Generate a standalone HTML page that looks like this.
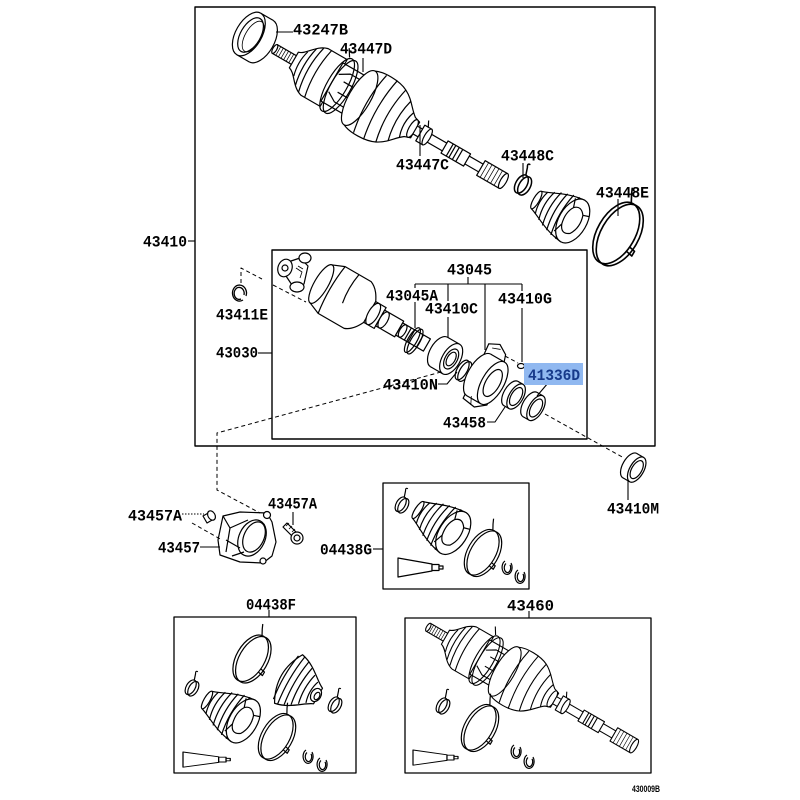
<!DOCTYPE html>
<html><head><meta charset="utf-8">
<style>
html,body{margin:0;padding:0;background:#fff;}
svg{display:block}
.t{font-family:"Liberation Mono",monospace;font-weight:bold;font-size:16px;fill:#000;stroke:none}
</style></head><body>
<svg width="800" height="800" viewBox="0 0 800 800" xmlns="http://www.w3.org/2000/svg">
<defs>
<g id="shaft" stroke="#000" stroke-width="1.2" fill="#fff" stroke-linejoin="round">
 <path d="M-6,-5 H18 V5 H-6 Z"/>
 <ellipse cx="-6" cy="0" rx="2" ry="5"/>
 <path fill="none" stroke-width="0.7" d="M-2,-5V5M1,-5V5M4,-5V5M7,-5V5M10,-5V5M13,-5V5"/>
 <path d="M16,-9 C24,-11 28,-24 40,-27 L62,-27 L62,27 L40,27 C28,24 24,11 16,9 Z"/>
 <path fill="none" d="M24,-14 Q20,0 24,14 M30,-21 Q25,0 30,21 M36,-25 Q30,0 36,25 M44,-27 Q38,0 44,27"/>
 <path d="M60,-22 H92 V22 H60 Z"/>
 <path fill="none" d="M62,-10 L72,-16 L88,-16 M62,10 L72,16 L88,16 M70,-6 H90 M70,6 H90"/>
 <ellipse fill="none" cx="66" cy="0" rx="10" ry="30"/>
 <ellipse fill="none" cx="70" cy="0" rx="10" ry="30"/>
 <path fill="none" d="M63,-30 L58,-38"/>
 <path d="M92,-31 C100,-35 118,-35 128,-30 C138,-25 142,-17 150,-11 L156,-9 L156,9 L150,11 C142,17 138,25 128,30 C118,35 100,35 92,31 Z"/>
 <ellipse cx="92" cy="0" rx="11" ry="31"/>
 <path fill="none" d="M104,-33 Q97,0 104,33 M116,-34 Q109,0 116,34 M128,-30 Q121,0 128,30 M138,-23 Q132,0 138,23 M146,-14 Q141,0 146,14"/>
 <ellipse cx="153" cy="0" rx="3.5" ry="10"/>
 <path d="M156,-4.5 H234 V4.5 H156 Z"/>
 <path d="M162,-9 H170 V9 H162 Z"/>
 <ellipse cx="170" cy="0" rx="3" ry="9"/>
 <path fill="none" d="M166,-9 L163,-15"/>
 <path d="M190,-7 H216 V7 H190 Z"/>
 <path fill="none" d="M196,-7V7M199,-7V7M203,-7V7M207,-7V7"/>
 <path d="M232,-8.5 H258 V8.5 H232 Z"/>
 <path fill="none" stroke-width="0.7" d="M236,-8.5V8.5M240,-8.5V8.5M244,-8.5V8.5M248,-8.5V8.5M252,-8.5V8.5"/>
 <ellipse cx="258" cy="0" rx="3" ry="8.5"/>
</g>
<g id="boot" stroke="#000" stroke-width="1.2" fill="#fff" stroke-linejoin="round">
 <path d="M0,-10 C8,-12 22,-22 42,-24 L42,24 C22,22 8,12 0,10 Z"/>
 <ellipse cx="0" cy="0" rx="3" ry="10"/>
 <path fill="none" d="M6,-12.5 Q2,0 6,12.5 M12,-16 Q7,0 12,16 M18,-19 Q13,0 18,19 M24,-21 Q19,0 24,21 M30,-23 Q25,0 30,23 M36,-24 Q31,0 36,24"/>
 <ellipse cx="42" cy="0" rx="14" ry="24"/>
 <path fill="none" d="M36,-12 Q42,-18 48,-10 Q52,2 46,12 Q38,18 34,8 Q31,-4 36,-12 Z M36,-12 L33,-21 M48,-10 L54,-12 M34,8 L31,18"/>
</g>
<g id="band" fill="none" stroke="#000" stroke-width="1.2">
 <g transform="rotate(30)">
  <ellipse cx="-1.5" cy="0" rx="14" ry="25"/>
  <ellipse cx="1.5" cy="0" rx="14" ry="25"/>
  <path d="M-3,-25 Q-6,-30 -8,-35 M12,4 l5,1 l0,4 l-5,-1"/>
 </g>
</g>
<g id="clamp" fill="none" stroke="#000" stroke-width="1.2">
 <g transform="rotate(30)">
  <ellipse cx="-1.5" cy="0" rx="4.5" ry="8"/>
  <ellipse cx="1.5" cy="0" rx="4.5" ry="8"/>
  <path d="M-2,-8 L-4,-14 Q-6,-17 -3,-17"/>
 </g>
</g>
<g id="snap" fill="none" stroke="#000" stroke-width="1.2">
 <path d="M-2,-7 A5,7 0 1,0 4,-5 M-1,-4.5 A3.2,4.8 0 1,0 3,-3.2"/>
</g>
<g id="tube" fill="#fff" stroke="#000" stroke-width="1.2">
 <path d="M0,0 L34,6 L34,13 L0,19 Z"/>
 <path d="M34,6.5 H41 V12.5 H34 Z"/>
 <path d="M41,8 H45 V11 H41 Z"/>
</g>
</defs>

<g stroke="#000" stroke-width="1.2" fill="#fff" stroke-linejoin="round">
<rect x="195" y="7" width="460" height="439" fill="none" stroke-width="1.4"/>
<rect x="272" y="250" width="315" height="189" fill="none" stroke-width="1.4"/>
<rect x="383" y="483" width="146" height="106" fill="none" stroke-width="1.3"/>
<rect x="174" y="617" width="182" height="156" fill="none" stroke-width="1.3"/>
<rect x="405" y="618" width="246" height="155" fill="none" stroke-width="1.3"/>

<g transform="translate(280,52) rotate(30)">
 <ellipse cx="-22" cy="0" rx="13" ry="24"/>
 <path d="M-36,-24 H-22 V24 H-36 Z" stroke="none"/>
 <path fill="none" d="M-36,-24 H-22 M-36,24 H-22"/>
 <ellipse cx="-36" cy="0" rx="13" ry="24"/>
 <ellipse cx="-34" cy="0" rx="10" ry="19" fill="none"/>
 <ellipse cx="-31" cy="0" rx="8" ry="17" fill="none" stroke-width="0.8"/>
</g>
<use href="#shaft" transform="translate(280,52) rotate(30)"/>
<use href="#clamp" transform="translate(523,185) scale(1.25)"/>
<use href="#boot" transform="translate(280,52) rotate(30) translate(296,0)"/>
<use href="#band" transform="translate(618,234) scale(1.35)"/>

<path d="M288,262 L300,258 L308,266 L304,284 L294,288 L286,276 Z"/>
<ellipse cx="305" cy="258" rx="6" ry="5"/>
<ellipse cx="297" cy="287" rx="7" ry="5"/>
<ellipse cx="285" cy="268" rx="7" ry="9" transform="rotate(20 285 268)"/>
<circle cx="285" cy="268" r="3" fill="none"/>
<path fill="none" d="M296,268 l6,4 l-2,6 M298,266 l5,3" stroke-width="0.8"/>

<g transform="translate(297,270) rotate(30)">
 <path d="M28,-22 L40,-27 L70,-27 C78,-24 82,-16 84,-12 L84,12 C82,16 78,24 70,27 L40,27 L28,22 Z"/>
 <ellipse cx="28" cy="0" rx="7" ry="22"/>
 <path fill="none" d="M40,-27 Q36,0 40,27 M56,-27 Q53,-10 56,6"/>
 <path d="M84,-12 H96 V12 H84 Z"/>
 <ellipse cx="88" cy="0" rx="5" ry="12"/>
 <path d="M96,-9 H118 V9 H96 Z"/>
 <ellipse cx="100" cy="0" rx="4" ry="9"/>
 <path d="M118,-7 H150 V7 H118 Z"/>
 <ellipse cx="122" cy="0" rx="3" ry="7"/>
 <path fill="none" d="M128,-7V7 M132,-7V7 M142,-7V7"/>
 <ellipse cx="135" cy="3" rx="4.5" ry="14" fill="none"/>
 <ellipse cx="138" cy="3" rx="4.5" ry="14" fill="none"/>
 <ellipse cx="164" cy="0" rx="9" ry="17"/>
 <path d="M164,-17 H178 V17 H164 Z" stroke="none"/>
 <path fill="none" d="M164,-17 H178 M164,17 H178"/>
 <ellipse cx="178" cy="0" rx="9" ry="17"/>
 <ellipse cx="178" cy="0" rx="6" ry="11" fill="none"/>
 <ellipse cx="178" cy="0" rx="4" ry="7.5" fill="none"/>
 <ellipse cx="193" cy="4" rx="5" ry="11" fill="none"/>
 <ellipse cx="196" cy="4" rx="5" ry="11" fill="none"/>
 <path d="M204,-22 L203,-32 L213,-37 L223,-31 L226,-22 L232,22 L222,30 L208,28 Z"/>
 <ellipse cx="210" cy="0" rx="11" ry="24"/>
 <path d="M210,-24 H226 V24 H210 Z" stroke="none"/>
 <path fill="none" d="M210,-24 H226 M210,24 H226"/>
 <ellipse cx="226" cy="0" rx="11" ry="24"/>
 <ellipse cx="226" cy="0" rx="7" ry="15" fill="none"/>
 <path fill="none" d="M208,-30 L216,-33 M214,22 L218,30" stroke-width="0.8"/>
 <ellipse cx="247" cy="0" rx="7" ry="14"/>
 <path d="M247,-14 H253 V14 H247 Z" stroke="none"/>
 <path fill="none" d="M247,-14 H253 M247,14 H253"/>
 <ellipse cx="253" cy="0" rx="7" ry="14"/>
 <ellipse cx="253" cy="0" rx="5" ry="10" fill="none"/>
 <ellipse cx="269" cy="0" rx="7" ry="14"/>
 <path d="M269,-14 H276 V14 H269 Z" stroke="none"/>
 <path fill="none" d="M269,-14 H276 M269,14 H276"/>
 <ellipse cx="276" cy="0" rx="7" ry="14"/>
 <ellipse cx="276" cy="0" rx="5" ry="10" fill="none"/>
 <ellipse cx="386" cy="3" rx="7" ry="14"/>
 <path d="M386,-11 H394 V17 H386 Z" stroke="none"/>
 <path fill="none" d="M386,-11 H394 M386,17 H394"/>
 <ellipse cx="394" cy="3" rx="7" ry="14"/>
 <ellipse cx="394" cy="3" rx="5" ry="10" fill="none"/>
</g>
<ellipse cx="521" cy="366" rx="3.5" ry="2.5"/>

<path fill="none" d="M243,300 A7,8 0 1,1 246,296 M241,299 A5,6 0 1,1 244,295" stroke-width="1.3"/>

<path d="M223,516 L240,512 L267,513 L272,522 L276,542 L272,556 L263,563 L240,562 L220,555 L218,540 Z"/>
<ellipse cx="252" cy="538" rx="13" ry="19" transform="rotate(25 252 538)"/>
<ellipse cx="254" cy="537" rx="10" ry="16" transform="rotate(25 254 537)"/>
<path fill="none" d="M223,516 L230,528 L226,552 M230,528 L248,520 M226,540 L240,548 M232,556 L244,552"/>
<circle cx="267" cy="515" r="3.5"/>
<circle cx="263" cy="561" r="3"/>
<path d="M203,516 L210,512 L214,519 L207,523 Z"/>
<ellipse cx="211.5" cy="515.5" rx="3.5" ry="5" transform="rotate(-30 211.5 515.5)"/>
<path d="M283,527 L287,523 L297,533 L293,537 Z"/>
<path fill="none" d="M286,526 l3,-3 M289,529 l3,-3 M292,532 l3,-3" stroke-width="0.8"/>
<circle cx="297" cy="538" r="6"/>
<circle cx="297" cy="538" r="3" fill="none"/>

<use href="#clamp" transform="translate(402,505)"/>
<use href="#boot" transform="translate(418,510) rotate(33)"/>
<use href="#band" transform="translate(483,553)"/>
<use href="#tube" transform="translate(398,558)"/>
<use href="#snap" transform="translate(507,568)"/>
<use href="#snap" transform="translate(520,577)"/>

<use href="#band" transform="translate(252,659) scale(1.02)"/>
<g transform="translate(318,696) rotate(210)">
 <path d="M0,-9 C8,-12 18,-25 34,-28 Q50,0 34,28 C18,25 8,12 0,9 Z"/>
 <path fill="none" d="M7,-12 Q11,0 7,12 M13,-16.5 Q17,0 13,16.5 M19,-21 Q23,0 19,21 M25,-24.5 Q29,0 25,24.5 M31,-27 Q35,0 31,27 M37,-25 Q41,0 37,25"/>
</g>
<ellipse cx="316" cy="695" rx="5" ry="7" transform="rotate(30 316 695)"/>
<ellipse cx="317" cy="696" rx="2.5" ry="4" transform="rotate(30 317 696)" fill="none"/>
<use href="#clamp" transform="translate(335,705)"/>
<use href="#clamp" transform="translate(192,688)"/>
<use href="#boot" transform="translate(207,700) rotate(30)"/>
<use href="#band" transform="translate(277,737)"/>
<use href="#tube" transform="translate(183,752) scale(1.05,0.8)"/>
<use href="#snap" transform="translate(308,757)"/>
<use href="#snap" transform="translate(322,765)"/>

<use href="#shaft" transform="translate(433,630) rotate(30) scale(0.9)"/>
<use href="#clamp" transform="translate(443,706)"/>
<use href="#band" transform="translate(480,728)"/>
<use href="#tube" transform="translate(413,750) scale(1,0.8)"/>
<use href="#snap" transform="translate(516,752)"/>
<use href="#snap" transform="translate(529,762)"/>

<g fill="none" stroke-width="1.1">
 <path d="M276,32 H293"/>
 <path d="M363,58 V72"/>
 <path d="M420,125 V156"/>
 <path d="M523,163 V178"/>
 <path d="M618,199 V216"/>
 <path d="M188,241 H195"/>
 <path d="M258,353 H272"/>
 <path d="M415,284 H522 M468,277 V284 M415,284 V288 M415,302 V328 M448,284 V301 M448,317 V338 M485,284 V350 M522,284 V291 M522,308 V362"/>
 <path d="M438,384 H447 L457,372"/>
 <path d="M548,383 L537,396"/>
 <path d="M487,422 H495 L505,407"/>
 <path d="M628,481 V500"/>
 <path d="M182,514 H204" stroke-dasharray="1.5,1.5"/>
 <path d="M293,512 V525"/>
 <path d="M200,547 H220"/>
 <path d="M373,549 H383"/>
 <path d="M269,610 V617"/>
 <path d="M529,611 V618"/>
</g>
<g fill="none" stroke-width="1" stroke-dasharray="4,3">
 <path d="M241,283 V268 L262,279"/>
 <path d="M273,285 L306,302"/>
 <path d="M441,372 L217,433 L217,490 L260,513"/>
 <path d="M192,523 L222,540"/>
 <path d="M545,414 L624,458"/>
 <path d="M505,356 L518,363"/>
</g>
</g>

<rect x="524" y="363" width="59" height="22" fill="#90b8f0"/>

<g class="t">
<text class="t" x="293" y="34.5" textLength="55" lengthAdjust="spacingAndGlyphs">43247B</text>
<text class="t" x="340" y="53.5" textLength="52" lengthAdjust="spacingAndGlyphs">43447D</text>
<text class="t" x="396" y="169.5" textLength="53" lengthAdjust="spacingAndGlyphs">43447C</text>
<text class="t" x="501" y="160.5" textLength="53" lengthAdjust="spacingAndGlyphs">43448C</text>
<text class="t" x="596" y="197.5" textLength="53" lengthAdjust="spacingAndGlyphs">43448E</text>
<text class="t" x="143" y="246.5" textLength="44" lengthAdjust="spacingAndGlyphs">43410</text>
<text class="t" x="216" y="319.5" textLength="52" lengthAdjust="spacingAndGlyphs">43411E</text>
<text class="t" x="216" y="357.5" textLength="42" lengthAdjust="spacingAndGlyphs">43030</text>
<text class="t" x="447" y="274.5" textLength="45" lengthAdjust="spacingAndGlyphs">43045</text>
<text class="t" x="386" y="300.5" textLength="52" lengthAdjust="spacingAndGlyphs">43045A</text>
<text class="t" x="425" y="313.5" textLength="53" lengthAdjust="spacingAndGlyphs">43410C</text>
<text class="t" x="498" y="303.5" textLength="54" lengthAdjust="spacingAndGlyphs">43410G</text>
<text class="t" x="383" y="389.5" textLength="55" lengthAdjust="spacingAndGlyphs">43410N</text>
<text class="t" x="528" y="380" textLength="52" lengthAdjust="spacingAndGlyphs" style="fill:#173a8a">41336D</text>
<text class="t" x="443" y="427.5" textLength="43" lengthAdjust="spacingAndGlyphs">43458</text>
<text class="t" x="607" y="513.5" textLength="52" lengthAdjust="spacingAndGlyphs">43410M</text>
<text class="t" x="128" y="520.5" textLength="54" lengthAdjust="spacingAndGlyphs">43457A</text>
<text class="t" x="268" y="508.5" textLength="49" lengthAdjust="spacingAndGlyphs">43457A</text>
<text class="t" x="158" y="552.5" textLength="42" lengthAdjust="spacingAndGlyphs">43457</text>
<text class="t" x="320" y="554.5" textLength="52" lengthAdjust="spacingAndGlyphs">04438G</text>
<text class="t" x="246" y="609.5" textLength="50" lengthAdjust="spacingAndGlyphs">04438F</text>
<text class="t" x="507" y="610.5" textLength="47" lengthAdjust="spacingAndGlyphs">43460</text>
<text x="632" y="792" textLength="28" lengthAdjust="spacingAndGlyphs" style="font-family:'Liberation Sans',sans-serif;font-size:9px;font-weight:bold;fill:#000">430009B</text>
</g>
</svg>
</body></html>
